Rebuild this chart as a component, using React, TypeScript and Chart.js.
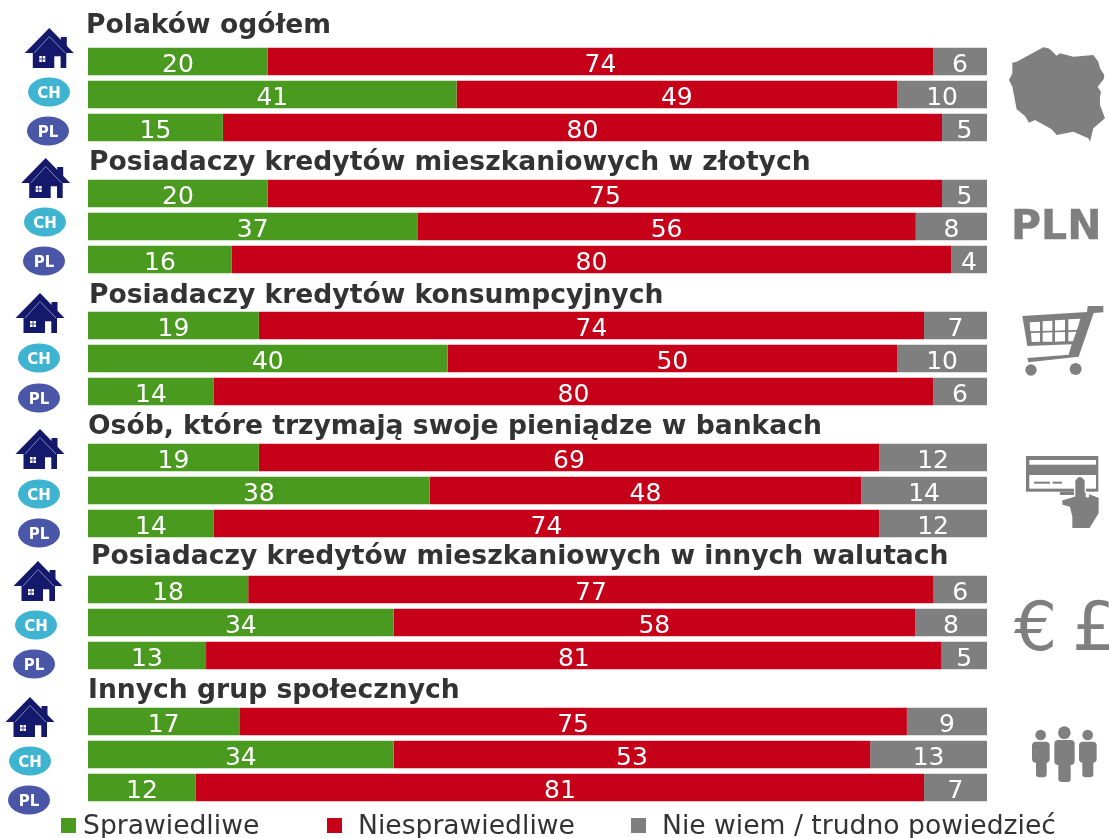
import React, { useEffect, useRef } from "react";
import { Chart, registerables } from "chart.js";

Chart.register(...registerables);

const groupTitles = [
  "Polaków ogółem",
  "Posiadaczy kredytów mieszkaniowych w złotych",
  "Posiadaczy kredytów konsumpcyjnych",
  "Osób, które trzymają swoje pieniądze w bankach",
  "Posiadaczy kredytów mieszkaniowych w innych walutach",
  "Innych grup społecznych",
];
const rowNames = ["Dom", "CH", "PL"];
const seriesNames = ["Sprawiedliwe", "Niesprawiedliwe", "Nie wiem / trudno powiedzieć"];

// Each row: household, CH, PL; a title row sits above each trio
const fair = [20, 41, 15, 20, 37, 16, 19, 40, 14, 19, 38, 14, 18, 34, 13, 17, 34, 12];
const unfair = [74, 49, 80, 75, 56, 80, 74, 50, 80, 69, 48, 74, 77, 58, 81, 75, 53, 81];
const unsure = [6, 10, 5, 5, 8, 4, 7, 10, 6, 12, 14, 12, 6, 8, 5, 9, 13, 7];

const GREEN = "#4a9a1f";
const RED = "#c60018";
const GRAY = "#7f7f7f";
const INK = "#333333";
const NAVY = "#14196b";
const CYAN = "#3fb4d0";
const INDIGO = "#4a57a8";
const FONT = '"DejaVu Sans", Verdana, sans-serif';

const titleX = [86, 89, 89, 88, 91, 88];
const titleBase = [33, 170, 303, 434, 564, 698];
const legendPos = [
  { box: 61, text: 83 },
  { box: 327, text: 358 },
  { box: 631, text: 662 },
];

const categories: string[] = [];
const rowSource: (number | null)[] = [];
groupTitles.forEach((t, g) => {
  categories.push(t);
  rowSource.push(null);
  rowNames.forEach((n, r) => {
    categories.push(t + " – " + n);
    rowSource.push(g * 3 + r);
  });
});

const share = (arr: number[]) =>
  rowSource.map((i) => (i === null ? null : (arr[i] / (fair[i] + unfair[i] + unsure[i])) * 100));
const raw = (arr: number[]) => rowSource.map((i) => (i === null ? null : arr[i]));

const overlayPlugin = {
  id: "overlay",
  afterDatasetsDraw(chart: any) {
    const ctx = chart.ctx;
    ctx.save();
    const sources = [raw(fair), raw(unfair), raw(unsure)];
    ctx.font = `25px ${FONT}`;
    ctx.fillStyle = "#ffffff";
    ctx.textAlign = "center";
    ctx.textBaseline = "alphabetic";
    chart.data.datasets.forEach((_: any, d: number) => {
      chart.getDatasetMeta(d).data.forEach((el: any, i: number) => {
        const v = sources[d][i];
        if (v === null) return;
        ctx.fillText(String(v), (el.x + el.base) / 2, el.y + 10.5);
      });
    });
    ctx.textAlign = "left";
    ctx.fillStyle = INK;
    ctx.font = `bold 26.6px ${FONT}`;
    groupTitles.forEach((t, i) => ctx.fillText(t, titleX[i], titleBase[i]));
    ctx.font = `26.6px ${FONT}`;
    chart.data.datasets.forEach((ds: any, d: number) => {
      ctx.fillStyle = ds.backgroundColor;
      ctx.fillRect(legendPos[d].box, 818, 15, 15);
      ctx.fillStyle = INK;
      ctx.fillText(ds.label, legendPos[d].text, 834);
    });
    ctx.restore();
  },
};

const houses = [
  [49.3, 28],
  [45.7, 158],
  [40, 293],
  [40, 429],
  [38, 561],
  [30, 697],
];
const chBadges = [
  [49, 92],
  [45, 222],
  [39, 358],
  [39, 494],
  [36, 625],
  [30, 761],
];
const plBadges = [
  [48, 131],
  [44, 261],
  [39, 398],
  [39, 533],
  [34, 664],
  [29, 800],
];

function House({ x, y }: { x: number; y: number }) {
  return (
    <g transform={`translate(${x},${y})`}>
      <rect x={11.5} y={9} width={6} height={12} fill={NAVY} />
      <path d="M0 0 L24.5 25 L-24.5 25 Z" fill={NAVY} />
      <rect x={-16.5} y={24} width={33.5} height={16} fill={NAVY} />
      <path d="M-15 25 L0 8.5 L16 25" fill="none" stroke="#9ea3d2" strokeWidth={0.8} />
      <rect x={-10} y={28} width={6} height={6} fill="#ffffff" />
      <path d="M-7 28 V34 M-10 31 H-4" stroke={NAVY} strokeWidth={0.8} />
      <rect x={5} y={28.3} width={6.3} height={11.7} fill="#ffffff" />
    </g>
  );
}

function Badge({ x, y, fill, text }: { x: number; y: number; fill: string; text: string }) {
  return (
    <g>
      <ellipse cx={x} cy={y} rx={21} ry={14.5} fill={fill} />
      <text x={x} y={y + 5.5} textAnchor="middle" fill="#ffffff" fontFamily={FONT} fontWeight="bold" fontSize={15}>
        {text}
      </text>
    </g>
  );
}

function Icons() {
  return (
    <svg
      width={1109}
      height={838}
      style={{ position: "absolute", left: 0, top: 0, pointerEvents: "none" }}
    >
      {houses.map(([x, y], i) => (
        <House key={i} x={x} y={y} />
      ))}
      {chBadges.map(([x, y], i) => (
        <Badge key={i} x={x} y={y} fill={CYAN} text="CH" />
      ))}
      {plBadges.map(([x, y], i) => (
        <Badge key={i} x={x} y={y} fill={INDIGO} text="PL" />
      ))}

      <g transform="translate(1005,40) scale(0.3333)" fill={GRAY}>
        <path d="M22 68 L35 65 L115 22 L130 25 L140 32 L155 47 L165 40 L205 50 L265 45 L280 65 L285 85 L298 105 L296 118 L278 140 L288 155 L285 170 L285 195 L300 235 L265 265 L255 305 L250 295 L205 275 L155 285 L140 268 L90 240 L72 248 L60 228 L35 208 L22 140 L12 120 L22 100 Z" />
      </g>

      <text x={1011} y={239} fill={GRAY} stroke={GRAY} strokeWidth={0.4} fontFamily={FONT} fontWeight="bold" fontSize={41}>
        PLN
      </text>

      <g transform="translate(1015,300) scale(0.3333)" fill={GRAY}>
        <path d="M22 48 L216 36 L218 18 L265 18 L265 37 L236 39 L191 170 L40 187 L37 174 L161 164 L170 133 L37 138 Z" />
        <g fill="#ffffff">
          <path d="M44 67 L75 65 L75 93 L46 94 Z" />
          <path d="M83 64 L112 62 L112 92 L83 93 Z" />
          <path d="M120 61 L150 59 L150 91 L120 92 Z" />
          <path d="M160 58 L196 56 L186 90 L160 91 Z" />
          <path d="M48 99 L75 98 L75 125 L50 126 Z" />
          <path d="M83 98 L112 97 L112 125 L83 125 Z" />
          <path d="M120 97 L150 96 L150 124 L120 125 Z" />
          <path d="M160 96 L184 95 L174 124 L160 124 Z" />
        </g>
        <circle cx={48} cy={210} r={17} />
        <circle cx={182} cy={207} r={18} />
      </g>

      <g transform="translate(1020,450) scale(0.3333)">
        <rect x={18} y={18} width={217} height={107} fill={GRAY} />
        <rect x={28} y={30} width={200} height={14} fill="#ffffff" />
        <rect x={28} y={75} width={200} height={41} fill="#ffffff" />
        <rect x={42} y={95} width={48} height={6} fill={GRAY} />
        <rect x={98} y={95} width={28} height={6} fill={GRAY} />
        <rect x={120} y={125} width={50} height={10} fill={GRAY} />
        <path
          d="M164 92 Q180 66 196 92 L196 126 L238 142 L238 190 L210 236 L155 236 L155 200 L148 172 L126 166 L124 150 L164 138 Z"
          fill={GRAY}
          stroke="#ffffff"
          strokeWidth={4}
        />
        <rect x={197} y={128} width={10} height={14} fill="#ffffff" />
      </g>

      <text x={1014} y={650} fill={GRAY} fontFamily={FONT} fontSize={68}>
        €
      </text>
      <text x={1072} y={650} fill={GRAY} fontFamily={FONT} fontSize={68}>
        £
      </text>

      <g transform="translate(1010,720) scale(0.3333)" fill={GRAY}>
        <circle cx={92} cy={45} r={16} />
        <rect x={66} y={65} width={53} height={63} rx={12} />
        <rect x={78} y={110} width={32} height={62} rx={10} />
        <circle cx={163} cy={38} r={19} />
        <rect x={133} y={60} width={61} height={75} rx={12} />
        <rect x={145} y={115} width={37} height={71} rx={10} />
        <circle cx={233} cy={45} r={16} />
        <rect x={207} y={65} width={53} height={63} rx={12} />
        <rect x={217} y={110} width={33} height={62} rx={10} />
      </g>
    </svg>
  );
}

export default function App() {
  const ref = useRef<HTMLCanvasElement | null>(null);
  useEffect(() => {
    document.body.style.margin = "0";
    if (!ref.current) return;
    const mk = (label: string, arr: number[], color: string) => ({
      label,
      data: share(arr),
      backgroundColor: color,
      categoryPercentage: 1,
      barPercentage: 27.5 / 33,
    });
    const chart = new Chart(ref.current, {
      type: "bar",
      data: {
        labels: categories,
        datasets: [
          mk(seriesNames[0], fair, GREEN),
          mk(seriesNames[1], unfair, RED),
          mk(seriesNames[2], unsure, GRAY),
        ],
      },
      options: {
        indexAxis: "y",
        responsive: false,
        animation: false,
        layout: { padding: { left: 88, right: 122, top: 12, bottom: 34 } },
        plugins: { legend: { display: false }, tooltip: { enabled: false } },
        scales: {
          x: { stacked: true, min: 0, max: 100, display: false },
          y: { stacked: true, display: false },
        },
      },
      plugins: [overlayPlugin],
    } as any);
    return () => chart.destroy();
  }, []);
  return (
    <div style={{ position: "absolute", left: 0, top: 0, width: 1109, height: 838, overflow: "hidden", background: "#ffffff" }}>
      <canvas ref={ref} width={1109} height={838} style={{ display: "block" }} />
      <Icons />
    </div>
  );
}
